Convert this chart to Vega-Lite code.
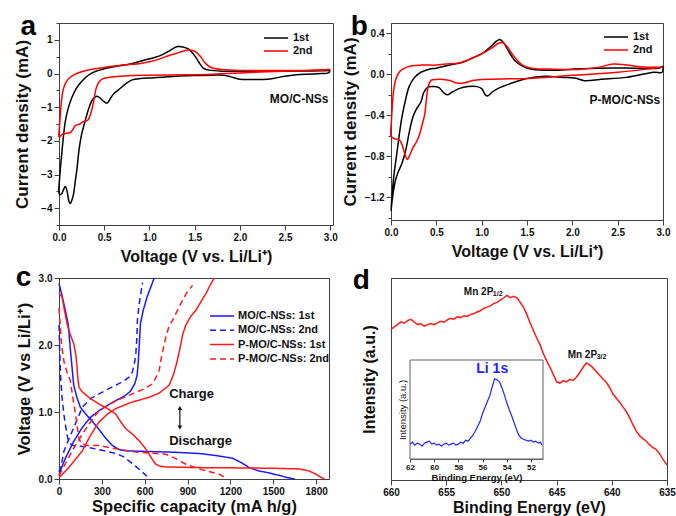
{
  "$schema": "https://vega.github.io/schema/vega-lite/v6.json",
  "background": "white",
  "padding": {"left": 13, "top": 12, "right": 5, "bottom": 5},
  "config": {
    "font": "Liberation Sans",
    "view": {"stroke": "#404040", "strokeWidth": 1},
    "axis": {"grid": false, "domainColor": "#404040", "tickColor": "#404040", "labelColor": "#111111", "titleColor": "#111111", "labelFont": "Liberation Sans", "titleFont": "Liberation Sans", "labelFontWeight": "bold", "labelFontSize": 10, "titleFontWeight": "bold", "titleFontSize": 16, "labelFlush": false, "labelOverlap": false, "labelPadding": 2},
    "legend": {"labelFont": "Liberation Sans", "labelFontWeight": "bold", "labelFontSize": 11, "labelColor": "#111111", "padding": 0}
  },
  "columns": 2,
  "bounds": "flush",
  "spacing": {"row": 53, "column": 58},
  "resolve": {"scale": {"color": "independent", "strokeDash": "independent"}, "legend": {"color": "independent", "strokeDash": "independent"}},
  "datasets": {
    "cva": [
      {"s":"1st","v":3.0,"c":0.07},{"s":"1st","v":2.97,"c":0.01},{"s":"1st","v":2.9,"c":0.0},{"s":"1st","v":2.75,"c":-0.02},{"s":"1st","v":2.63,"c":-0.04},{"s":"1st","v":2.5,"c":-0.08},{"s":"1st","v":2.4,"c":-0.13},{"s":"1st","v":2.3,"c":-0.17},{"s":"1st","v":2.2,"c":-0.18},{"s":"1st","v":2.1,"c":-0.18},{"s":"1st","v":2.0,"c":-0.17},{"s":"1st","v":1.9,"c":-0.1},{"s":"1st","v":1.82,"c":-0.05},{"s":"1st","v":1.7,"c":-0.05},{"s":"1st","v":1.53,"c":-0.06},{"s":"1st","v":1.3,"c":-0.08},{"s":"1st","v":1.15,"c":-0.11},{"s":"1st","v":1.03,"c":-0.13},{"s":"1st","v":0.9,"c":-0.15},{"s":"1st","v":0.81,"c":-0.19},{"s":"1st","v":0.74,"c":-0.3},{"s":"1st","v":0.66,"c":-0.48},{"s":"1st","v":0.6,"c":-0.62},{"s":"1st","v":0.56,"c":-0.78},{"s":"1st","v":0.53,"c":-0.88},{"s":"1st","v":0.49,"c":-0.82},{"s":"1st","v":0.45,"c":-0.72},{"s":"1st","v":0.41,"c":-0.68},{"s":"1st","v":0.37,"c":-0.78},{"s":"1st","v":0.33,"c":-1.03},{"s":"1st","v":0.29,"c":-1.4},{"s":"1st","v":0.25,"c":-1.81},{"s":"1st","v":0.22,"c":-2.3},{"s":"1st","v":0.2,"c":-2.8},{"s":"1st","v":0.18,"c":-3.2},{"s":"1st","v":0.16,"c":-3.59},{"s":"1st","v":0.14,"c":-3.78},{"s":"1st","v":0.125,"c":-3.86},{"s":"1st","v":0.11,"c":-3.8},{"s":"1st","v":0.09,"c":-3.5},{"s":"1st","v":0.07,"c":-3.36},{"s":"1st","v":0.05,"c":-3.45},{"s":"1st","v":0.03,"c":-3.57},{"s":"1st","v":0.01,"c":-3.59},{"s":"1st","v":0.0,"c":-3.55},
      {"s":"1st","v":0.01,"c":-3.0},{"s":"1st","v":0.03,"c":-2.4},{"s":"1st","v":0.05,"c":-1.85},{"s":"1st","v":0.07,"c":-1.42},{"s":"1st","v":0.1,"c":-1.05},{"s":"1st","v":0.14,"c":-0.73},{"s":"1st","v":0.19,"c":-0.45},{"s":"1st","v":0.25,"c":-0.24},{"s":"1st","v":0.32,"c":-0.06},{"s":"1st","v":0.4,"c":0.06},{"s":"1st","v":0.5,"c":0.14},{"s":"1st","v":0.65,"c":0.22},{"s":"1st","v":0.8,"c":0.29},{"s":"1st","v":0.95,"c":0.4},{"s":"1st","v":1.05,"c":0.47},{"s":"1st","v":1.12,"c":0.53},{"s":"1st","v":1.2,"c":0.64},{"s":"1st","v":1.26,"c":0.74},{"s":"1st","v":1.31,"c":0.8},{"s":"1st","v":1.37,"c":0.79},{"s":"1st","v":1.43,"c":0.73},{"s":"1st","v":1.48,"c":0.6},{"s":"1st","v":1.52,"c":0.45},{"s":"1st","v":1.56,"c":0.28},{"s":"1st","v":1.6,"c":0.15},{"s":"1st","v":1.66,"c":0.1},{"s":"1st","v":1.8,"c":0.07},{"s":"1st","v":2.0,"c":0.07},{"s":"1st","v":2.5,"c":0.07},{"s":"1st","v":2.9,"c":0.08},{"s":"1st","v":3.0,"c":0.1},
      {"s":"2nd","v":3.0,"c":0.12},{"s":"2nd","v":2.7,"c":0.09},{"s":"2nd","v":2.4,"c":0.06},{"s":"2nd","v":2.1,"c":0.03},{"s":"2nd","v":1.85,"c":0.0},{"s":"2nd","v":1.7,"c":-0.02},{"s":"2nd","v":1.4,"c":-0.04},{"s":"2nd","v":1.0,"c":-0.05},{"s":"2nd","v":0.8,"c":-0.06},{"s":"2nd","v":0.65,"c":-0.09},{"s":"2nd","v":0.55,"c":-0.12},{"s":"2nd","v":0.48,"c":-0.16},{"s":"2nd","v":0.44,"c":-0.26},{"s":"2nd","v":0.41,"c":-0.45},{"s":"2nd","v":0.39,"c":-0.72},{"s":"2nd","v":0.37,"c":-1.0},{"s":"2nd","v":0.35,"c":-1.2},{"s":"2nd","v":0.32,"c":-1.38},{"s":"2nd","v":0.29,"c":-1.42},{"s":"2nd","v":0.26,"c":-1.44},{"s":"2nd","v":0.23,"c":-1.5},{"s":"2nd","v":0.18,"c":-1.55},{"s":"2nd","v":0.15,"c":-1.68},{"s":"2nd","v":0.12,"c":-1.76},{"s":"2nd","v":0.09,"c":-1.77},{"s":"2nd","v":0.06,"c":-1.79},{"s":"2nd","v":0.04,"c":-1.8},{"s":"2nd","v":0.02,"c":-1.85},{"s":"2nd","v":0.0,"c":-1.88},
      {"s":"2nd","v":0.005,"c":-1.6},{"s":"2nd","v":0.015,"c":-1.2},{"s":"2nd","v":0.03,"c":-0.75},{"s":"2nd","v":0.05,"c":-0.45},{"s":"2nd","v":0.08,"c":-0.25},{"s":"2nd","v":0.12,"c":-0.12},{"s":"2nd","v":0.18,"c":-0.02},{"s":"2nd","v":0.25,"c":0.05},{"s":"2nd","v":0.35,"c":0.12},{"s":"2nd","v":0.5,"c":0.18},{"s":"2nd","v":0.7,"c":0.25},{"s":"2nd","v":0.9,"c":0.3},{"s":"2nd","v":1.0,"c":0.35},{"s":"2nd","v":1.1,"c":0.42},{"s":"2nd","v":1.2,"c":0.52},{"s":"2nd","v":1.3,"c":0.6},{"s":"2nd","v":1.37,"c":0.66},{"s":"2nd","v":1.43,"c":0.7},{"s":"2nd","v":1.5,"c":0.66},{"s":"2nd","v":1.56,"c":0.52},{"s":"2nd","v":1.62,"c":0.3},{"s":"2nd","v":1.68,"c":0.18},{"s":"2nd","v":1.8,"c":0.12},{"s":"2nd","v":2.0,"c":0.09},{"s":"2nd","v":2.5,"c":0.09},{"s":"2nd","v":2.9,"c":0.1},{"s":"2nd","v":3.0,"c":0.12}
    ],
    "cvb": [
      {"s":"1st","v":3.0,"c":0.08},{"s":"1st","v":2.99,"c":0.02},{"s":"1st","v":2.9,"c":0.02},{"s":"1st","v":2.6,"c":-0.03},{"s":"1st","v":2.3,"c":-0.05},{"s":"1st","v":2.2,"c":-0.06},{"s":"1st","v":2.12,"c":-0.06},{"s":"1st","v":2.05,"c":-0.04},{"s":"1st","v":1.9,"c":-0.03},{"s":"1st","v":1.7,"c":-0.02},{"s":"1st","v":1.5,"c":-0.04},{"s":"1st","v":1.35,"c":-0.08},{"s":"1st","v":1.2,"c":-0.13},{"s":"1st","v":1.12,"c":-0.17},{"s":"1st","v":1.07,"c":-0.21},{"s":"1st","v":1.04,"c":-0.2},{"s":"1st","v":1.0,"c":-0.14},{"s":"1st","v":0.95,"c":-0.12},{"s":"1st","v":0.85,"c":-0.12},{"s":"1st","v":0.75,"c":-0.14},{"s":"1st","v":0.68,"c":-0.17},{"s":"1st","v":0.62,"c":-0.2},{"s":"1st","v":0.57,"c":-0.17},{"s":"1st","v":0.53,"c":-0.13},{"s":"1st","v":0.45,"c":-0.12},{"s":"1st","v":0.4,"c":-0.13},{"s":"1st","v":0.36,"c":-0.18},{"s":"1st","v":0.33,"c":-0.27},{"s":"1st","v":0.28,"c":-0.34},{"s":"1st","v":0.24,"c":-0.42},{"s":"1st","v":0.2,"c":-0.57},{"s":"1st","v":0.16,"c":-0.75},{"s":"1st","v":0.12,"c":-0.87},{"s":"1st","v":0.08,"c":-0.95},{"s":"1st","v":0.05,"c":-1.03},{"s":"1st","v":0.03,"c":-1.12},{"s":"1st","v":0.01,"c":-1.25},{"s":"1st","v":0.0,"c":-1.33},
      {"s":"1st","v":0.01,"c":-1.2},{"s":"1st","v":0.03,"c":-1.0},{"s":"1st","v":0.06,"c":-0.8},{"s":"1st","v":0.09,"c":-0.6},{"s":"1st","v":0.12,"c":-0.42},{"s":"1st","v":0.16,"c":-0.25},{"s":"1st","v":0.2,"c":-0.12},{"s":"1st","v":0.26,"c":-0.03},{"s":"1st","v":0.33,"c":0.02},{"s":"1st","v":0.42,"c":0.05},{"s":"1st","v":0.5,"c":0.06},{"s":"1st","v":0.6,"c":0.08},{"s":"1st","v":0.7,"c":0.1},{"s":"1st","v":0.8,"c":0.12},{"s":"1st","v":0.9,"c":0.16},{"s":"1st","v":1.0,"c":0.2},{"s":"1st","v":1.1,"c":0.27},{"s":"1st","v":1.16,"c":0.32},{"s":"1st","v":1.2,"c":0.34},{"s":"1st","v":1.24,"c":0.31},{"s":"1st","v":1.3,"c":0.22},{"s":"1st","v":1.37,"c":0.13},{"s":"1st","v":1.45,"c":0.08},{"s":"1st","v":1.55,"c":0.05},{"s":"1st","v":1.8,"c":0.04},{"s":"1st","v":2.0,"c":0.05},{"s":"1st","v":2.3,"c":0.06},{"s":"1st","v":2.7,"c":0.06},{"s":"1st","v":2.95,"c":0.06},{"s":"1st","v":3.0,"c":0.08},
      {"s":"2nd","v":3.0,"c":0.07},{"s":"2nd","v":2.5,"c":0.02},{"s":"2nd","v":2.0,"c":-0.01},{"s":"2nd","v":1.5,"c":-0.04},{"s":"2nd","v":1.0,"c":-0.05},{"s":"2nd","v":0.9,"c":-0.06},{"s":"2nd","v":0.8,"c":-0.085},{"s":"2nd","v":0.72,"c":-0.085},{"s":"2nd","v":0.65,"c":-0.06},{"s":"2nd","v":0.58,"c":-0.05},{"s":"2nd","v":0.5,"c":-0.05},{"s":"2nd","v":0.44,"c":-0.06},{"s":"2nd","v":0.41,"c":-0.12},{"s":"2nd","v":0.39,"c":-0.25},{"s":"2nd","v":0.37,"c":-0.4},{"s":"2nd","v":0.35,"c":-0.47},{"s":"2nd","v":0.31,"c":-0.6},{"s":"2nd","v":0.28,"c":-0.66},{"s":"2nd","v":0.24,"c":-0.72},{"s":"2nd","v":0.2,"c":-0.8},{"s":"2nd","v":0.18,"c":-0.83},{"s":"2nd","v":0.15,"c":-0.77},{"s":"2nd","v":0.12,"c":-0.68},{"s":"2nd","v":0.09,"c":-0.64},{"s":"2nd","v":0.05,"c":-0.63},{"s":"2nd","v":0.02,"c":-0.62},{"s":"2nd","v":0.0,"c":-0.6},
      {"s":"2nd","v":0.005,"c":-0.45},{"s":"2nd","v":0.015,"c":-0.3},{"s":"2nd","v":0.03,"c":-0.15},{"s":"2nd","v":0.06,"c":-0.03},{"s":"2nd","v":0.1,"c":0.03},{"s":"2nd","v":0.15,"c":0.06},{"s":"2nd","v":0.22,"c":0.08},{"s":"2nd","v":0.35,"c":0.09},{"s":"2nd","v":0.5,"c":0.09},{"s":"2nd","v":0.6,"c":0.1},{"s":"2nd","v":0.75,"c":0.11},{"s":"2nd","v":0.85,"c":0.14},{"s":"2nd","v":1.0,"c":0.2},{"s":"2nd","v":1.1,"c":0.25},{"s":"2nd","v":1.18,"c":0.3},{"s":"2nd","v":1.23,"c":0.31},{"s":"2nd","v":1.28,"c":0.27},{"s":"2nd","v":1.35,"c":0.18},{"s":"2nd","v":1.45,"c":0.09},{"s":"2nd","v":1.55,"c":0.06},{"s":"2nd","v":1.8,"c":0.05},{"s":"2nd","v":2.1,"c":0.05},{"s":"2nd","v":2.3,"c":0.07},{"s":"2nd","v":2.45,"c":0.1},{"s":"2nd","v":2.6,"c":0.09},{"s":"2nd","v":2.8,"c":0.07},{"s":"2nd","v":3.0,"c":0.07}
    ],
    "gcd": [
      {"s":"MO/C-NSs: 1st","b":"d","q":0,"u":2.92},{"s":"MO/C-NSs: 1st","b":"d","q":20,"u":2.75},{"s":"MO/C-NSs: 1st","b":"d","q":47,"u":2.49},{"s":"MO/C-NSs: 1st","b":"d","q":65,"u":2.3},{"s":"MO/C-NSs: 1st","b":"d","q":79,"u":1.95},{"s":"MO/C-NSs: 1st","b":"d","q":92,"u":1.65},{"s":"MO/C-NSs: 1st","b":"d","q":103,"u":1.4},{"s":"MO/C-NSs: 1st","b":"d","q":125,"u":1.22},{"s":"MO/C-NSs: 1st","b":"d","q":150,"u":1.07},{"s":"MO/C-NSs: 1st","b":"d","q":187,"u":0.97},{"s":"MO/C-NSs: 1st","b":"d","q":230,"u":0.87},{"s":"MO/C-NSs: 1st","b":"d","q":280,"u":0.74},{"s":"MO/C-NSs: 1st","b":"d","q":330,"u":0.6},{"s":"MO/C-NSs: 1st","b":"d","q":374,"u":0.5},{"s":"MO/C-NSs: 1st","b":"d","q":420,"u":0.44},{"s":"MO/C-NSs: 1st","b":"d","q":467,"u":0.42},{"s":"MO/C-NSs: 1st","b":"d","q":631,"u":0.41},{"s":"MO/C-NSs: 1st","b":"d","q":800,"u":0.4},{"s":"MO/C-NSs: 1st","b":"d","q":982,"u":0.38},{"s":"MO/C-NSs: 1st","b":"d","q":1100,"u":0.35},{"s":"MO/C-NSs: 1st","b":"d","q":1215,"u":0.31},{"s":"MO/C-NSs: 1st","b":"d","q":1280,"u":0.24},{"s":"MO/C-NSs: 1st","b":"d","q":1332,"u":0.17},{"s":"MO/C-NSs: 1st","b":"d","q":1400,"u":0.12},{"s":"MO/C-NSs: 1st","b":"d","q":1450,"u":0.1},{"s":"MO/C-NSs: 1st","b":"d","q":1550,"u":0.05},{"s":"MO/C-NSs: 1st","b":"d","q":1600,"u":0.02},{"s":"MO/C-NSs: 1st","b":"d","q":1650,"u":0.0},
      {"s":"MO/C-NSs: 1st","b":"c","q":0,"u":0.05},{"s":"MO/C-NSs: 1st","b":"c","q":20,"u":0.18},{"s":"MO/C-NSs: 1st","b":"c","q":47,"u":0.32},{"s":"MO/C-NSs: 1st","b":"c","q":100,"u":0.55},{"s":"MO/C-NSs: 1st","b":"c","q":163,"u":0.77},{"s":"MO/C-NSs: 1st","b":"c","q":220,"u":0.92},{"s":"MO/C-NSs: 1st","b":"c","q":280,"u":1.02},{"s":"MO/C-NSs: 1st","b":"c","q":340,"u":1.1},{"s":"MO/C-NSs: 1st","b":"c","q":397,"u":1.17},{"s":"MO/C-NSs: 1st","b":"c","q":460,"u":1.24},{"s":"MO/C-NSs: 1st","b":"c","q":500,"u":1.31},{"s":"MO/C-NSs: 1st","b":"c","q":530,"u":1.42},{"s":"MO/C-NSs: 1st","b":"c","q":547,"u":1.55},{"s":"MO/C-NSs: 1st","b":"c","q":555,"u":1.75},{"s":"MO/C-NSs: 1st","b":"c","q":562,"u":2.0},{"s":"MO/C-NSs: 1st","b":"c","q":570,"u":2.32},{"s":"MO/C-NSs: 1st","b":"c","q":590,"u":2.52},{"s":"MO/C-NSs: 1st","b":"c","q":617,"u":2.72},{"s":"MO/C-NSs: 1st","b":"c","q":640,"u":2.85},{"s":"MO/C-NSs: 1st","b":"c","q":666,"u":3.0},
      {"s":"MO/C-NSs: 2nd","b":"d","q":0,"u":2.3},{"s":"MO/C-NSs: 2nd","b":"d","q":5,"u":1.9},{"s":"MO/C-NSs: 2nd","b":"d","q":12,"u":1.5},{"s":"MO/C-NSs: 2nd","b":"d","q":22,"u":1.2},{"s":"MO/C-NSs: 2nd","b":"d","q":35,"u":0.95},{"s":"MO/C-NSs: 2nd","b":"d","q":47,"u":0.78},{"s":"MO/C-NSs: 2nd","b":"d","q":60,"u":0.62},{"s":"MO/C-NSs: 2nd","b":"d","q":75,"u":0.53},{"s":"MO/C-NSs: 2nd","b":"d","q":100,"u":0.5},{"s":"MO/C-NSs: 2nd","b":"d","q":187,"u":0.48},{"s":"MO/C-NSs: 2nd","b":"d","q":300,"u":0.43},{"s":"MO/C-NSs: 2nd","b":"d","q":400,"u":0.38},{"s":"MO/C-NSs: 2nd","b":"d","q":453,"u":0.33},{"s":"MO/C-NSs: 2nd","b":"d","q":520,"u":0.22},{"s":"MO/C-NSs: 2nd","b":"d","q":570,"u":0.13},{"s":"MO/C-NSs: 2nd","b":"d","q":615,"u":0.04},
      {"s":"MO/C-NSs: 2nd","b":"c","q":0,"u":0.1},{"s":"MO/C-NSs: 2nd","b":"c","q":15,"u":0.2},{"s":"MO/C-NSs: 2nd","b":"c","q":35,"u":0.42},{"s":"MO/C-NSs: 2nd","b":"c","q":80,"u":0.65},{"s":"MO/C-NSs: 2nd","b":"c","q":120,"u":0.85},{"s":"MO/C-NSs: 2nd","b":"c","q":163,"u":1.07},{"s":"MO/C-NSs: 2nd","b":"c","q":220,"u":1.2},{"s":"MO/C-NSs: 2nd","b":"c","q":280,"u":1.27},{"s":"MO/C-NSs: 2nd","b":"c","q":360,"u":1.36},{"s":"MO/C-NSs: 2nd","b":"c","q":444,"u":1.45},{"s":"MO/C-NSs: 2nd","b":"c","q":490,"u":1.52},{"s":"MO/C-NSs: 2nd","b":"c","q":514,"u":1.6},{"s":"MO/C-NSs: 2nd","b":"c","q":530,"u":1.75},{"s":"MO/C-NSs: 2nd","b":"c","q":538,"u":1.87},{"s":"MO/C-NSs: 2nd","b":"c","q":545,"u":2.1},{"s":"MO/C-NSs: 2nd","b":"c","q":549,"u":2.37},{"s":"MO/C-NSs: 2nd","b":"c","q":560,"u":2.6},{"s":"MO/C-NSs: 2nd","b":"c","q":573,"u":2.77},{"s":"MO/C-NSs: 2nd","b":"c","q":585,"u":2.93},
      {"s":"P-MO/C-NSs: 1st","b":"d","q":0,"u":2.77},{"s":"P-MO/C-NSs: 1st","b":"d","q":21,"u":2.72},{"s":"P-MO/C-NSs: 1st","b":"d","q":40,"u":2.5},{"s":"P-MO/C-NSs: 1st","b":"d","q":56,"u":2.32},{"s":"P-MO/C-NSs: 1st","b":"d","q":80,"u":2.15},{"s":"P-MO/C-NSs: 1st","b":"d","q":103,"u":2.02},{"s":"P-MO/C-NSs: 1st","b":"d","q":118,"u":1.85},{"s":"P-MO/C-NSs: 1st","b":"d","q":126,"u":1.67},{"s":"P-MO/C-NSs: 1st","b":"d","q":132,"u":1.5},{"s":"P-MO/C-NSs: 1st","b":"d","q":140,"u":1.37},{"s":"P-MO/C-NSs: 1st","b":"d","q":163,"u":1.3},{"s":"P-MO/C-NSs: 1st","b":"d","q":220,"u":1.2},{"s":"P-MO/C-NSs: 1st","b":"d","q":280,"u":1.12},{"s":"P-MO/C-NSs: 1st","b":"d","q":340,"u":1.05},{"s":"P-MO/C-NSs: 1st","b":"d","q":397,"u":0.97},{"s":"P-MO/C-NSs: 1st","b":"d","q":430,"u":0.86},{"s":"P-MO/C-NSs: 1st","b":"d","q":467,"u":0.75},{"s":"P-MO/C-NSs: 1st","b":"d","q":520,"u":0.66},{"s":"P-MO/C-NSs: 1st","b":"d","q":561,"u":0.57},{"s":"P-MO/C-NSs: 1st","b":"d","q":600,"u":0.47},{"s":"P-MO/C-NSs: 1st","b":"d","q":631,"u":0.37},{"s":"P-MO/C-NSs: 1st","b":"d","q":660,"u":0.27},{"s":"P-MO/C-NSs: 1st","b":"d","q":678,"u":0.22},{"s":"P-MO/C-NSs: 1st","b":"d","q":710,"u":0.19},{"s":"P-MO/C-NSs: 1st","b":"d","q":748,"u":0.18},{"s":"P-MO/C-NSs: 1st","b":"d","q":980,"u":0.17},{"s":"P-MO/C-NSs: 1st","b":"d","q":1300,"u":0.165},{"s":"P-MO/C-NSs: 1st","b":"d","q":1500,"u":0.16},{"s":"P-MO/C-NSs: 1st","b":"d","q":1683,"u":0.15},{"s":"P-MO/C-NSs: 1st","b":"d","q":1750,"u":0.12},{"s":"P-MO/C-NSs: 1st","b":"d","q":1800,"u":0.07},{"s":"P-MO/C-NSs: 1st","b":"d","q":1830,"u":0.03},{"s":"P-MO/C-NSs: 1st","b":"d","q":1858,"u":0.0},
      {"s":"P-MO/C-NSs: 1st","b":"c","q":0,"u":0.02},{"s":"P-MO/C-NSs: 1st","b":"c","q":60,"u":0.15},{"s":"P-MO/C-NSs: 1st","b":"c","q":110,"u":0.28},{"s":"P-MO/C-NSs: 1st","b":"c","q":163,"u":0.42},{"s":"P-MO/C-NSs: 1st","b":"c","q":220,"u":0.65},{"s":"P-MO/C-NSs: 1st","b":"c","q":280,"u":0.85},{"s":"P-MO/C-NSs: 1st","b":"c","q":340,"u":0.97},{"s":"P-MO/C-NSs: 1st","b":"c","q":397,"u":1.05},{"s":"P-MO/C-NSs: 1st","b":"c","q":500,"u":1.14},{"s":"P-MO/C-NSs: 1st","b":"c","q":631,"u":1.22},{"s":"P-MO/C-NSs: 1st","b":"c","q":700,"u":1.28},{"s":"P-MO/C-NSs: 1st","b":"c","q":771,"u":1.4},{"s":"P-MO/C-NSs: 1st","b":"c","q":800,"u":1.55},{"s":"P-MO/C-NSs: 1st","b":"c","q":820,"u":1.7},{"s":"P-MO/C-NSs: 1st","b":"c","q":842,"u":1.9},{"s":"P-MO/C-NSs: 1st","b":"c","q":865,"u":2.15},{"s":"P-MO/C-NSs: 1st","b":"c","q":888,"u":2.3},{"s":"P-MO/C-NSs: 1st","b":"c","q":920,"u":2.42},{"s":"P-MO/C-NSs: 1st","b":"c","q":959,"u":2.52},{"s":"P-MO/C-NSs: 1st","b":"c","q":1000,"u":2.67},{"s":"P-MO/C-NSs: 1st","b":"c","q":1029,"u":2.77},{"s":"P-MO/C-NSs: 1st","b":"c","q":1060,"u":2.9},{"s":"P-MO/C-NSs: 1st","b":"c","q":1087,"u":3.0},
      {"s":"P-MO/C-NSs: 2nd","b":"d","q":0,"u":2.55},{"s":"P-MO/C-NSs: 2nd","b":"d","q":8,"u":2.3},{"s":"P-MO/C-NSs: 2nd","b":"d","q":18,"u":2.0},{"s":"P-MO/C-NSs: 2nd","b":"d","q":35,"u":1.75},{"s":"P-MO/C-NSs: 2nd","b":"d","q":55,"u":1.6},{"s":"P-MO/C-NSs: 2nd","b":"d","q":79,"u":1.47},{"s":"P-MO/C-NSs: 2nd","b":"d","q":98,"u":1.2},{"s":"P-MO/C-NSs: 2nd","b":"d","q":115,"u":0.97},{"s":"P-MO/C-NSs: 2nd","b":"d","q":128,"u":0.78},{"s":"P-MO/C-NSs: 2nd","b":"d","q":138,"u":0.62},{"s":"P-MO/C-NSs: 2nd","b":"d","q":155,"u":0.53},{"s":"P-MO/C-NSs: 2nd","b":"d","q":200,"u":0.5},{"s":"P-MO/C-NSs: 2nd","b":"d","q":280,"u":0.5},{"s":"P-MO/C-NSs: 2nd","b":"d","q":400,"u":0.45},{"s":"P-MO/C-NSs: 2nd","b":"d","q":550,"u":0.4},{"s":"P-MO/C-NSs: 2nd","b":"d","q":748,"u":0.37},{"s":"P-MO/C-NSs: 2nd","b":"d","q":820,"u":0.3},{"s":"P-MO/C-NSs: 2nd","b":"d","q":888,"u":0.22},{"s":"P-MO/C-NSs: 2nd","b":"d","q":1000,"u":0.14},{"s":"P-MO/C-NSs: 2nd","b":"d","q":1122,"u":0.07},{"s":"P-MO/C-NSs: 2nd","b":"d","q":1180,"u":0.0},
      {"s":"P-MO/C-NSs: 2nd","b":"c","q":0,"u":0.05},{"s":"P-MO/C-NSs: 2nd","b":"c","q":50,"u":0.25},{"s":"P-MO/C-NSs: 2nd","b":"c","q":100,"u":0.45},{"s":"P-MO/C-NSs: 2nd","b":"c","q":163,"u":0.67},{"s":"P-MO/C-NSs: 2nd","b":"c","q":220,"u":0.85},{"s":"P-MO/C-NSs: 2nd","b":"c","q":280,"u":1.02},{"s":"P-MO/C-NSs: 2nd","b":"c","q":400,"u":1.17},{"s":"P-MO/C-NSs: 2nd","b":"c","q":514,"u":1.27},{"s":"P-MO/C-NSs: 2nd","b":"c","q":600,"u":1.35},{"s":"P-MO/C-NSs: 2nd","b":"c","q":654,"u":1.42},{"s":"P-MO/C-NSs: 2nd","b":"c","q":680,"u":1.52},{"s":"P-MO/C-NSs: 2nd","b":"c","q":701,"u":1.62},{"s":"P-MO/C-NSs: 2nd","b":"c","q":720,"u":1.85},{"s":"P-MO/C-NSs: 2nd","b":"c","q":748,"u":2.12},{"s":"P-MO/C-NSs: 2nd","b":"c","q":770,"u":2.28},{"s":"P-MO/C-NSs: 2nd","b":"c","q":795,"u":2.37},{"s":"P-MO/C-NSs: 2nd","b":"c","q":830,"u":2.52},{"s":"P-MO/C-NSs: 2nd","b":"c","q":865,"u":2.67},{"s":"P-MO/C-NSs: 2nd","b":"c","q":900,"u":2.8},{"s":"P-MO/C-NSs: 2nd","b":"c","q":935,"u":2.89}
    ],
    "xps": [
      {"e":660.0,"n":74.5},{"e":659.7,"n":75.8},{"e":659.4,"n":77.0},{"e":659.1,"n":78.3},{"e":658.8,"n":77.6},{"e":658.5,"n":78.9},{"e":658.2,"n":79.5},{"e":657.9,"n":78.2},{"e":657.6,"n":76.9},{"e":657.3,"n":77.4},{"e":657.0,"n":76.2},{"e":656.7,"n":76.8},{"e":656.4,"n":77.5},{"e":656.1,"n":76.9},{"e":655.8,"n":77.8},{"e":655.5,"n":78.6},{"e":655.2,"n":78.1},{"e":654.9,"n":79.3},{"e":654.6,"n":80.0},{"e":654.3,"n":79.6},{"e":654.0,"n":80.8},{"e":653.7,"n":80.4},{"e":653.4,"n":81.3},{"e":653.1,"n":81.0},{"e":652.8,"n":82.0},{"e":652.5,"n":82.3},{"e":652.2,"n":83.2},{"e":651.9,"n":83.8},{"e":651.6,"n":84.9},{"e":651.3,"n":85.6},{"e":651.0,"n":86.2},{"e":650.7,"n":87.3},{"e":650.4,"n":87.9},{"e":650.1,"n":89.0},{"e":649.8,"n":90.1},{"e":649.5,"n":91.4},{"e":649.2,"n":90.3},{"e":648.9,"n":90.9},{"e":648.6,"n":90.2},{"e":648.3,"n":88.0},{"e":648.0,"n":85.5},{"e":647.7,"n":82.0},{"e":647.4,"n":77.7},{"e":647.1,"n":74.0},{"e":646.8,"n":70.3},{"e":646.5,"n":67.0},{"e":646.2,"n":62.5},{"e":645.9,"n":59.0},{"e":645.6,"n":55.8},{"e":645.3,"n":52.3},{"e":645.0,"n":48.6},{"e":644.7,"n":48.0},{"e":644.4,"n":49.2},{"e":644.1,"n":48.6},{"e":643.8,"n":49.8},{"e":643.5,"n":49.3},{"e":643.2,"n":51.0},{"e":642.9,"n":53.2},{"e":642.6,"n":55.8},{"e":642.3,"n":57.9},{"e":642.0,"n":57.0},{"e":641.7,"n":55.5},{"e":641.4,"n":53.6},{"e":641.1,"n":51.8},{"e":640.8,"n":50.0},{"e":640.5,"n":48.4},{"e":640.2,"n":45.8},{"e":639.9,"n":42.7},{"e":639.6,"n":40.6},{"e":639.3,"n":38.5},{"e":639.0,"n":36.3},{"e":638.7,"n":34.0},{"e":638.4,"n":31.0},{"e":638.1,"n":27.5},{"e":637.8,"n":24.3},{"e":637.5,"n":22.0},{"e":637.2,"n":20.5},{"e":636.9,"n":19.3},{"e":636.6,"n":17.5},{"e":636.3,"n":16.2},{"e":636.0,"n":15.2},{"e":635.7,"n":13.2},{"e":635.4,"n":10.6},{"e":635.0,"n":7.4}
    ],
    "li": [
      {"e":62.0,"n":15},{"e":61.8,"n":17},{"e":61.6,"n":14},{"e":61.4,"n":16},{"e":61.2,"n":15},{"e":61.0,"n":13},{"e":60.8,"n":16},{"e":60.6,"n":17},{"e":60.4,"n":18},{"e":60.2,"n":15},{"e":60.0,"n":16},{"e":59.8,"n":14},{"e":59.6,"n":15},{"e":59.4,"n":13},{"e":59.2,"n":15},{"e":59.0,"n":16},{"e":58.8,"n":14},{"e":58.6,"n":15},{"e":58.4,"n":16},{"e":58.2,"n":14},{"e":58.0,"n":15},{"e":57.8,"n":17},{"e":57.6,"n":16},{"e":57.4,"n":19},{"e":57.2,"n":18},{"e":57.0,"n":21},{"e":56.8,"n":24},{"e":56.6,"n":28},{"e":56.4,"n":33},{"e":56.2,"n":38},{"e":56.0,"n":46},{"e":55.8,"n":52},{"e":55.6,"n":58},{"e":55.4,"n":64},{"e":55.2,"n":73},{"e":55.0,"n":81},{"e":54.8,"n":80},{"e":54.6,"n":78},{"e":54.4,"n":72},{"e":54.2,"n":65},{"e":54.0,"n":57},{"e":53.8,"n":50},{"e":53.6,"n":44},{"e":53.4,"n":37},{"e":53.2,"n":30},{"e":53.0,"n":24},{"e":52.8,"n":21},{"e":52.6,"n":20},{"e":52.4,"n":19},{"e":52.2,"n":18},{"e":52.0,"n":19},{"e":51.8,"n":17},{"e":51.6,"n":18},{"e":51.4,"n":16},{"e":51.2,"n":17},{"e":51.1,"n":14}
    ]
  },
  "concat": [
    {
      "width": 274, "height": 202,
      "resolve": {"axis": {"y": "independent"}},
      "layer": [
        {
          "data": {"name": "cva"},
          "mark": {"type": "line", "strokeWidth": 1.5, "interpolate": "catmull-rom"},
          "encoding": {
            "x": {"field": "v", "type": "quantitative", "scale": {"domain": [0, 3.03], "nice": false, "zero": false},
              "axis": {"title": "Voltage (V vs. Li/Li⁺)", "titlePadding": 6, "values": [0,0.25,0.5,0.75,1,1.25,1.5,1.75,2,2.25,2.5,2.75,3],
                "labelExpr": "abs(datum.value*2-round(datum.value*2))<0.001 ? format(datum.value,'.1f') : ''",
                "tickSize": {"condition": {"test": "abs(datum.value*2-round(datum.value*2))<0.001", "value": 5}, "value": 3}}},
            "y": {"field": "c", "type": "quantitative", "scale": {"domain": [-4.5, 1.5], "nice": false, "zero": false},
              "axis": {"orient": "left", "title": "Current density (mA)", "titleFontSize": 17, "titlePadding": 9, "values": [-4,-3,-2,-1,0,1], "format": "d", "tickSize": 5}},
            "color": {"field": "s", "type": "nominal", "scale": {"domain": ["1st", "2nd"], "range": ["#000000", "#ff0000"]},
              "legend": {"orient": "none", "legendX": 211, "legendY": 9, "title": null, "symbolType": "M-2.4,0H2.4", "symbolSize": 100, "symbolStrokeWidth": 1.5, "labelOffset": 11, "rowPadding": 2}},
            "order": {"value": null}
          }
        },
        {
          "data": {"values": [{}]},
          "mark": {"type": "rule", "opacity": 0},
          "encoding": {"y": {"datum": 0, "type": "quantitative", "axis": {"orient": "left", "title": null, "labels": false, "domain": false, "tickSize": 3, "values": [-4.5,-3.5,-2.5,-1.5,-0.5,0.5,1.5]}}}
        },
        {
          "data": {"values": [{}]},
          "mark": {"type": "text", "align": "right", "baseline": "middle", "fontSize": 12, "fontWeight": "bold", "color": "#111111"},
          "encoding": {"x": {"datum": 2.98}, "y": {"datum": -0.77, "axis": null}, "text": {"value": "MO/C-NSs"}}
        },
        {
          "data": {"values": [{}]},
          "mark": {"type": "text", "align": "center", "baseline": "alphabetic", "fontSize": 28, "fontWeight": "bold", "color": "#000000", "clip": false},
          "encoding": {"x": {"datum": -0.34}, "y": {"datum": 1.15, "axis": null}, "text": {"value": "a"}}
        }
      ]
    },
    {
      "width": 272, "height": 197,
      "resolve": {"axis": {"y": "independent"}},
      "layer": [
        {
          "data": {"name": "cvb"},
          "mark": {"type": "line", "strokeWidth": 1.5, "interpolate": "catmull-rom"},
          "encoding": {
            "x": {"field": "v", "type": "quantitative", "scale": {"domain": [0, 3.0], "nice": false, "zero": false},
              "axis": {"title": "Voltage (V vs. Li/Li⁺)", "titlePadding": 6, "values": [0,0.25,0.5,0.75,1,1.25,1.5,1.75,2,2.25,2.5,2.75,3],
                "labelExpr": "abs(datum.value*2-round(datum.value*2))<0.001 ? format(datum.value,'.1f') : ''",
                "tickSize": {"condition": {"test": "abs(datum.value*2-round(datum.value*2))<0.001", "value": 5}, "value": 3}}},
            "y": {"field": "c", "type": "quantitative", "scale": {"domain": [-1.42, 0.5], "nice": false, "zero": false},
              "axis": {"orient": "left", "title": "Current density (mA)", "titleFontSize": 17, "titlePadding": 5, "values": [-1.2,-0.8,-0.4,0,0.4], "format": ".1f", "tickSize": 5}},
            "color": {"field": "s", "type": "nominal", "scale": {"domain": ["1st", "2nd"], "range": ["#000000", "#ff0000"]},
              "legend": {"orient": "none", "legendX": 219, "legendY": 8, "title": null, "symbolType": "M-2.4,0H2.4", "symbolSize": 100, "symbolStrokeWidth": 1.5, "labelOffset": 11, "rowPadding": 2}},
            "order": {"value": null}
          }
        },
        {
          "data": {"values": [{}]},
          "mark": {"type": "rule", "opacity": 0},
          "encoding": {"y": {"datum": 0, "type": "quantitative", "axis": {"orient": "left", "title": null, "labels": false, "domain": false, "tickSize": 3, "values": [-1.4,-1.0,-0.6,-0.2,0.2]}}}
        },
        {
          "data": {"values": [{}]},
          "mark": {"type": "text", "align": "right", "baseline": "middle", "fontSize": 12, "fontWeight": "bold", "color": "#111111"},
          "encoding": {"x": {"datum": 2.97}, "y": {"datum": -0.255, "axis": null}, "text": {"value": "P-MO/C-NSs"}}
        },
        {
          "data": {"values": [{}]},
          "mark": {"type": "text", "align": "center", "baseline": "alphabetic", "fontSize": 28, "fontWeight": "bold", "color": "#000000", "clip": false},
          "encoding": {"x": {"datum": -0.35}, "y": {"datum": 0.38, "axis": null}, "text": {"value": "b"}}
        }
      ]
    },
    {
      "width": 270, "height": 201,
      "layer": [
        {
          "data": {"name": "gcd"},
          "mark": {"type": "line", "strokeWidth": 1.5},
          "encoding": {
            "x": {"field": "q", "type": "quantitative", "scale": {"domain": [0, 1890], "nice": false, "zero": false},
              "axis": {"title": "Specific capacity (mA h/g)", "titleFontSize": 16.5, "titlePadding": 2, "values": [0,150,300,450,600,750,900,1050,1200,1350,1500,1650,1800],
                "labelExpr": "datum.value%300==0 ? format(datum.value,'d') : ''",
                "tickSize": {"condition": {"test": "datum.value%300==0", "value": 5}, "value": 3}}},
            "y": {"field": "u", "type": "quantitative", "scale": {"domain": [0, 3], "nice": false, "zero": false},
              "axis": {"title": "Voltage (V vs Li/Li⁺)", "titleFontSize": 16.5, "titlePadding": 6, "values": [0,0.25,0.5,0.75,1,1.25,1.5,1.75,2,2.25,2.5,2.75,3],
                "labelExpr": "abs(datum.value*2-round(datum.value*2))<0.001 ? format(datum.value,'.1f') : ''",
                "tickSize": {"condition": {"test": "abs(datum.value*2-round(datum.value*2))<0.001", "value": 5}, "value": 3}}},
            "color": {"field": "s", "type": "nominal", "scale": {"domain": ["MO/C-NSs: 1st", "MO/C-NSs: 2nd", "P-MO/C-NSs: 1st", "P-MO/C-NSs: 2nd"], "range": ["#1a1aff", "#1a1aff", "#ff1a1a", "#ff1a1a"]},
              "legend": {"orient": "none", "legendX": 157, "legendY": 32, "title": null, "symbolType": "M-2.4,0H2.4", "symbolSize": 100, "symbolStrokeWidth": 1.5, "labelOffset": 10, "rowPadding": 3.3}},
            "strokeDash": {"field": "s", "type": "nominal", "scale": {"domain": ["MO/C-NSs: 1st", "MO/C-NSs: 2nd", "P-MO/C-NSs: 1st", "P-MO/C-NSs: 2nd"], "range": [[1, 0], [6, 4], [1, 0], [6, 4]]},
              "legend": {"orient": "none", "legendX": 157, "legendY": 32, "title": null, "symbolType": "M-2.4,0H2.4", "symbolSize": 100, "symbolStrokeWidth": 1.5, "labelOffset": 10, "rowPadding": 3.3}},
            "detail": {"field": "b"},
            "order": {"value": null}
          }
        },
        {
          "data": {"values": [{}]},
          "mark": {"type": "rule", "strokeWidth": 1.2, "color": "#111111"},
          "encoding": {"x": {"datum": 846}, "y": {"datum": 0.77}, "y2": {"datum": 1.07}}
        },
        {
          "data": {"values": [{}]},
          "mark": {"type": "point", "shape": "triangle-up", "size": 22, "filled": true, "color": "#111111", "opacity": 1},
          "encoding": {"x": {"datum": 846}, "y": {"datum": 1.06}}
        },
        {
          "data": {"values": [{}]},
          "mark": {"type": "point", "shape": "triangle-down", "size": 22, "filled": true, "color": "#111111", "opacity": 1},
          "encoding": {"x": {"datum": 846}, "y": {"datum": 0.77}}
        },
        {
          "data": {"values": [{}]},
          "mark": {"type": "text", "align": "left", "baseline": "middle", "fontSize": 13, "fontWeight": "bold", "color": "#111111"},
          "encoding": {"x": {"datum": 771}, "y": {"datum": 1.27}, "text": {"value": "Charge"}}
        },
        {
          "data": {"values": [{}]},
          "mark": {"type": "text", "align": "left", "baseline": "middle", "fontSize": 13, "fontWeight": "bold", "color": "#111111"},
          "encoding": {"x": {"datum": 771}, "y": {"datum": 0.57}, "text": {"value": "Discharge"}}
        },
        {
          "data": {"values": [{}]},
          "mark": {"type": "text", "align": "center", "baseline": "alphabetic", "fontSize": 28, "fontWeight": "bold", "color": "#000000", "clip": false},
          "encoding": {"x": {"datum": -249}, "y": {"datum": 2.88}, "text": {"value": "c"}}
        }
      ]
    },
    {
      "width": 276, "height": 202,
      "resolve": {"scale": {"x": "independent", "y": "independent"}, "axis": {"x": "independent", "y": "independent"}},
      "layer": [
        {
          "layer": [
            {
              "data": {"name": "xps"},
              "mark": {"type": "line", "strokeWidth": 1.5, "color": "#ff1a1a"},
              "encoding": {
                "x": {"field": "e", "type": "quantitative", "scale": {"domain": [635, 660], "reverse": true, "nice": false, "zero": false},
                  "axis": {"title": "Binding Energy (eV)", "titleFontSize": 16, "titlePadding": 2, "values": [635,637.5,640,642.5,645,647.5,650,652.5,655,657.5,660],
                    "labelExpr": "datum.value%5==0 ? format(datum.value,'d') : ''",
                    "tickSize": {"condition": {"test": "datum.value%5==0", "value": 5}, "value": 3}}},
                "y": {"field": "n", "type": "quantitative", "scale": {"domain": [0, 100], "nice": false, "zero": false},
                  "axis": {"title": "Intensity (a.u.)", "labels": false, "ticks": false, "titlePadding": 14}}
              }
            },
            {
              "data": {"values": [{}]},
              "mark": {"type": "text", "align": "left", "baseline": "middle", "fontSize": 10, "fontWeight": "bold", "color": "#111111"},
              "encoding": {"x": {"datum": 653.4}, "y": {"datum": 93}, "text": {"value": "Mn 2P"}}
            },
            {
              "data": {"values": [{}]},
              "mark": {"type": "text", "align": "left", "baseline": "middle", "fontSize": 7, "fontWeight": "bold", "color": "#111111", "dx": 29, "dy": 2},
              "encoding": {"x": {"datum": 653.4}, "y": {"datum": 93}, "text": {"value": "1/2"}}
            },
            {
              "data": {"values": [{}]},
              "mark": {"type": "text", "align": "left", "baseline": "middle", "fontSize": 10, "fontWeight": "bold", "color": "#111111"},
              "encoding": {"x": {"datum": 644.0}, "y": {"datum": 62}, "text": {"value": "Mn 2P"}}
            },
            {
              "data": {"values": [{}]},
              "mark": {"type": "text", "align": "left", "baseline": "middle", "fontSize": 7, "fontWeight": "bold", "color": "#111111", "dx": 29, "dy": 2},
              "encoding": {"x": {"datum": 644.0}, "y": {"datum": 62}, "text": {"value": "3/2"}}
            },
            {
              "data": {"values": [{}]},
              "mark": {"type": "text", "align": "center", "baseline": "alphabetic", "fontSize": 28, "fontWeight": "bold", "color": "#000000", "clip": false},
              "encoding": {"x": {"datum": 662.7}, "y": {"datum": 94.4}, "text": {"value": "d"}}
            }
          ]
        },
        {
          "layer": [
            {
              "data": {"values": [{}]},
              "mark": {"type": "rect", "fill": "white", "stroke": "#606060", "strokeWidth": 1},
              "encoding": {"x": {"datum": 62}, "x2": {"datum": 51}, "y": {"datum": 0}, "y2": {"datum": 100}}
            },
            {
              "data": {"name": "li"},
              "mark": {"type": "line", "strokeWidth": 1.2, "color": "#2222ff"},
              "encoding": {
                "x": {"field": "e", "type": "quantitative", "scale": {"domain": [51, 62], "range": [152, 19], "nice": false, "zero": false},
                  "axis": {"orient": "bottom", "offset": -21, "title": "Binding Energy (eV)", "titleFontSize": 9.5, "titlePadding": 1, "labelFontSize": 8, "labelPadding": 1, "values": [52,54,56,58,60,62], "format": "d", "tickSize": 3, "domainColor": "#606060"}},
                "y": {"field": "n", "type": "quantitative", "scale": {"domain": [0, 100], "range": [181, 82], "nice": false, "zero": false},
                  "axis": {"orient": "left", "offset": -19, "title": "Intensity (a.u.)", "titleFontSize": 9.5, "titleFontWeight": "normal", "titlePadding": 3, "labels": false, "ticks": false, "domain": false}}
              }
            },
            {
              "data": {"values": [{}]},
              "mark": {"type": "text", "align": "center", "baseline": "middle", "fontSize": 14, "fontWeight": "bold", "color": "#2222ff"},
              "encoding": {"x": {"datum": 55.2}, "y": {"datum": 91}, "text": {"value": "Li 1s"}}
            }
          ]
        }
      ]
    }
  ]
}
